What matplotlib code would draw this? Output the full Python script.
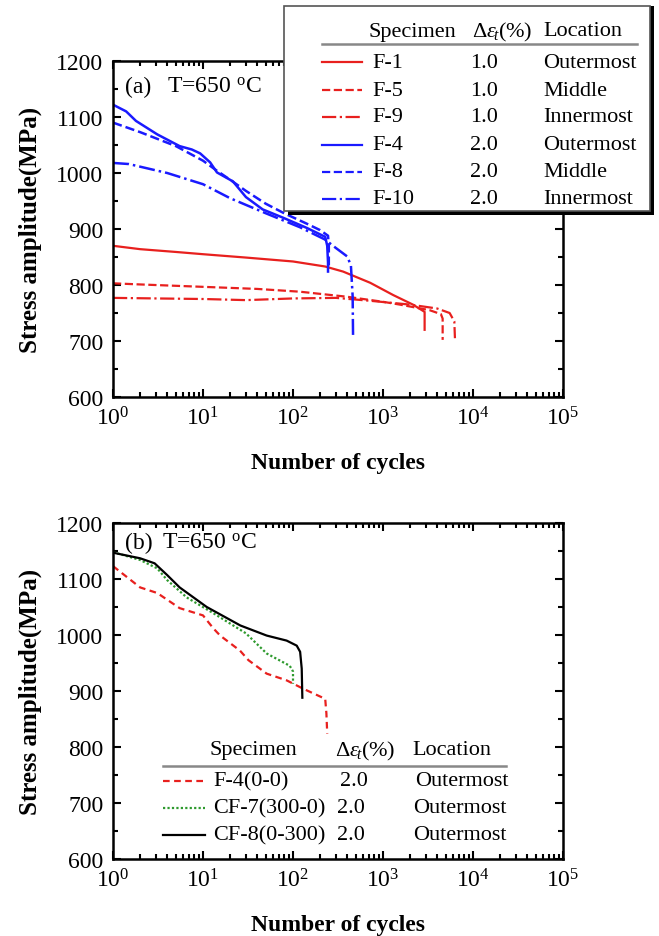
import numpy as np
import matplotlib.pyplot as plt
from matplotlib.lines import Line2D
from matplotlib.patches import Rectangle
from matplotlib.ticker import LogLocator, MultipleLocator, LogFormatterMathtext, NullFormatter

plt.rcParams['font.family'] = ['Liberation Serif', 'DejaVu Serif']
plt.rcParams['mathtext.fontset'] = 'custom'
plt.rcParams['mathtext.rm'] = 'Liberation Serif'
plt.rcParams['mathtext.it'] = 'Liberation Serif:italic'

RED = '#e8201e'
BLUE = '#1a1aff'
GREEN = '#2e9a2e'

# ---- panel (a) data: cycles, stress amplitude (MPa)
f1_n = [1, 2, 5, 10, 30, 100, 228, 360, 720, 1300, 2150, 2900, 2900]
f1_s = [870, 864, 859, 855, 849, 842, 833, 824, 804, 782, 765, 752, 720]
f5_n = [1, 2, 9, 40, 120, 400, 1000, 1540, 3300, 4400, 4600, 4600]
f5_s = [803, 801, 797, 793, 788, 779, 770, 765, 755, 748, 740, 702]
f9_n = [1, 3, 10, 30, 100, 300, 700, 2000, 4000, 5500, 6200, 6300]
f9_s = [777, 776, 775, 773, 776, 777, 772, 765, 758, 750, 735, 705]
f4_n = [1, 1.4, 1.8, 3.1, 5.5, 7.5, 9.3, 12, 14.3, 21.5, 30, 46, 78, 142, 228, 240, 245, 245]
f4_s = [1122, 1110, 1093, 1069, 1048, 1042, 1035, 1019, 1001, 985, 957, 935, 920, 902, 886, 870, 840, 824]
f8_n = [1, 2, 5, 10, 14, 20, 30, 50, 80, 140, 200, 245, 250, 250]
f8_s = [1090, 1073, 1048, 1022, 1005, 988, 968, 945, 928, 910, 898, 888, 870, 835]
f10_n = [1, 1.5, 4, 10, 20, 50, 120, 228, 300, 400, 440, 460, 465]
f10_s = [1018, 1016, 1000, 980, 955, 928, 903, 881, 866, 851, 835, 780, 705]

# ---- panel (b) data
b4_n = [1, 2, 3.1, 5.5, 10, 13, 15.5, 25.8, 32, 51, 85, 130, 228, 235, 240]
b4_s = [1123, 1085, 1075, 1048, 1035, 1012, 999, 972, 955, 931, 919, 904, 886, 860, 824]
cf7_n = [1, 2, 3.1, 4, 6.6, 13, 30, 51, 92, 100, 100]
cf7_s = [1148, 1134, 1119, 1098, 1067, 1039, 1003, 967, 945, 935, 913]
cf8_n = [1, 2, 2.9, 4, 5.5, 11, 26, 51, 85, 110, 120, 125, 127]
cf8_s = [1147, 1137, 1128, 1107, 1085, 1050, 1017, 999, 990, 981, 970, 940, 888]

legend_a = [('F-1', '1.0', 'Outermost'), ('F-5', '1.0', 'Middle'), ('F-9', '1.0', 'Innermost'),
            ('F-4', '2.0', 'Outermost'), ('F-8', '2.0', 'Middle'), ('F-10', '2.0', 'Innermost')]
legend_b = [('F-4(0-0)', '2.0', 'Outermost'), ('CF-7(300-0)', '2.0', 'Outermost'),
            ('CF-8(0-300)', '2.0', 'Outermost')]

W, H = 659, 937
fig = plt.figure(figsize=(W / 100, H / 100), dpi=100)


def fx(x):
    return x / W


def fy(y):
    return 1 - y / H


def setup(ax):
    ax.set_xscale('log')
    ax.set_xlim(1, 1e5)
    ax.set_ylim(600, 1200)
    ax.xaxis.set_major_locator(LogLocator(base=10, numticks=10))
    ax.xaxis.set_minor_locator(LogLocator(base=10, subs=np.arange(2, 10), numticks=10))
    ax.xaxis.set_major_formatter(LogFormatterMathtext())
    ax.xaxis.set_minor_formatter(NullFormatter())
    ax.yaxis.set_major_locator(MultipleLocator(100))
    ax.yaxis.set_minor_locator(MultipleLocator(50))
    ax.tick_params(which='both', direction='in', top=True, right=True, width=1.5)
    ax.tick_params(which='major', length=6, labelsize=17, pad=7)
    ax.tick_params(which='minor', length=3.5)
    for s in ax.spines.values():
        s.set_linewidth(1.8)
    ax.set_xlabel('Number of cycles', fontsize=17, fontweight='bold', labelpad=16)
    ax.set_ylabel('Stress amplitude(MPa)', fontsize=18, fontweight='bold', labelpad=10)


ax1 = fig.add_axes([fx(113), fy(398), fx(450), 336 / H])
ax2 = fig.add_axes([fx(113), fy(860), fx(450), 336 / H])
setup(ax1)
setup(ax2)

styles_a = [(RED, '-'), (RED, '--'), (RED, '-.'), (BLUE, '-'), (BLUE, '--'), (BLUE, '-.')]
series_a = [(f1_n, f1_s), (f5_n, f5_s), (f9_n, f9_s), (f4_n, f4_s), (f8_n, f8_s), (f10_n, f10_s)]
for (n, s), (c, ls) in zip(series_a, styles_a):
    ax1.plot(n, s, color=c, ls=ls, lw=1.6 if c == RED else 1.8)

styles_b = [(RED, (0, (3, 2))), (GREEN, (0, (1, 1))), ('black', '-')]
series_b = [(b4_n, b4_s), (cf7_n, cf7_s), (cf8_n, cf8_s)]
for (n, s), (c, ls) in zip(series_b, styles_b):
    ax2.plot(n, s, color=c, ls=ls, lw=1.6)

ax1.text(fx(125 - 113) / fx(450), 0.925, '(a)', transform=ax1.transAxes, fontsize=17, va='center')
ax1.text(fx(167 - 113) / fx(450), 0.925, 'T=650 $^{\\rm o}$C', transform=ax1.transAxes,
         fontsize=17, va='center')
ax2.text(fx(125 - 113) / fx(450), 0.943, '(b)', transform=ax2.transAxes, fontsize=17, va='center')
ax2.text(fx(162 - 113) / fx(450), 0.943, 'T=650 $^{\\rm o}$C', transform=ax2.transAxes,
         fontsize=17, va='center')

# ---- table legend (a), with box and shadow
fig.add_artist(Rectangle((fx(288), fy(216)), fx(366), 209 / H, transform=fig.transFigure,
                         facecolor='black', edgecolor='none', zorder=5))
fig.add_artist(Rectangle((fx(284), fy(212)), fx(366), 205 / H, transform=fig.transFigure,
                         facecolor='white', edgecolor='#555555', lw=1.2, zorder=6))
fs = 16
fig.text(fx(412), fy(32), 'Specimen', ha='center', va='center', fontsize=fs, zorder=7)
fig.text(fx(502), fy(32), r'$\Delta\varepsilon_{\!t}$(%)', ha='center', va='center', fontsize=fs, zorder=7)
fig.text(fx(583), fy(32), 'Location', ha='center', va='center', fontsize=fs, zorder=7)
fig.add_artist(Line2D([fx(322), fx(637)], [fy(45), fy(45)], color='#888888', lw=1.8, zorder=7))
rows_y = [63, 91, 118, 146, 173, 200]
for (name, val, loc), (c, ls), y in zip(legend_a, styles_a, rows_y):
    fig.add_artist(Line2D([fx(322), fx(362)], [fy(y), fy(y)], color=c, ls=ls, lw=1.6, zorder=7))
    fig.text(fx(372), fy(y), name, va='center', fontsize=fs, zorder=7)
    fig.text(fx(484), fy(y), val, ha='center', va='center', fontsize=fs, zorder=7)
    fig.text(fx(543), fy(y), loc, va='center', fontsize=fs, zorder=7)

# ---- table legend (b), no box
fig.text(fx(253), fy(751), 'Specimen', ha='center', va='center', fontsize=fs, zorder=7)
fig.text(fx(365), fy(751), r'$\Delta\varepsilon_{\!t}$(%)', ha='center', va='center', fontsize=fs, zorder=7)
fig.text(fx(452), fy(751), 'Location', ha='center', va='center', fontsize=fs, zorder=7)
fig.add_artist(Line2D([fx(163), fx(506)], [fy(767), fy(767)], color='#888888', lw=1.8, zorder=7))
rows_yb = [782, 809, 836]
val_x = [354, 351, 351]
loc_x = [415, 413, 413]
for (name, val, loc), (c, ls), y, vx, lx in zip(legend_b, styles_b, rows_yb, val_x, loc_x):
    fig.add_artist(Line2D([fx(163), fx(205)], [fy(y), fy(y)], color=c, ls=ls, lw=1.6, zorder=7))
    fig.text(fx(213), fy(y), name, va='center', fontsize=fs, zorder=7)
    fig.text(fx(vx), fy(y), val, ha='center', va='center', fontsize=fs, zorder=7)
    fig.text(fx(lx), fy(y), loc, va='center', fontsize=fs, zorder=7)

fig.savefig('out.png', dpi=100)
